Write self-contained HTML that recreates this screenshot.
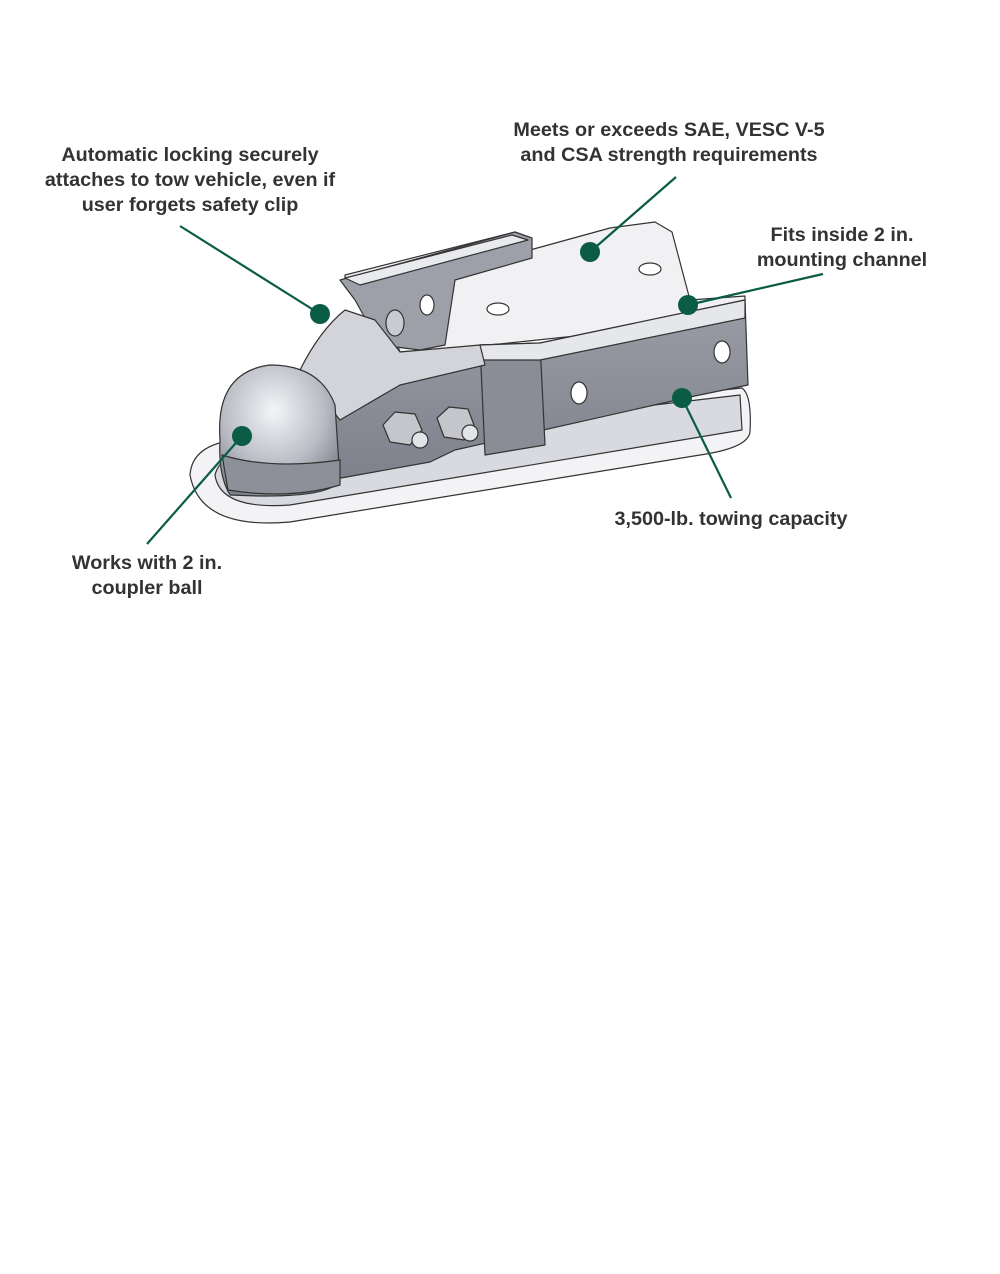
<!DOCTYPE html>
<html><head><meta charset="utf-8"><style>
html,body{margin:0;padding:0;background:#fff;}
body{width:1000px;height:1274px;position:relative;overflow:hidden;font-family:"Liberation Sans",sans-serif;}
.t{position:absolute;font-weight:bold;font-size:19.8px;line-height:25px;color:#333;text-align:center;white-space:nowrap;}
</style></head><body>
<svg width="1000" height="1274" style="position:absolute;left:0;top:0">
<defs>
<radialGradient id="ball" cx="0.45" cy="0.35" r="0.7"><stop offset="0" stop-color="#f4f5f8"/><stop offset="0.6" stop-color="#b9bcc4"/><stop offset="1" stop-color="#7d808a"/></radialGradient>
<linearGradient id="side" x1="0" y1="0" x2="0" y2="1"><stop offset="0" stop-color="#9a9da6"/><stop offset="1" stop-color="#7e818b"/></linearGradient>
</defs>
<g stroke="#333" stroke-width="1.2" stroke-linejoin="round">
<path d="M190,475 Q192,445 235,440 L742,388 Q752,395 750,432 Q748,448 700,455 L290,522 Q200,530 190,475 Z" fill="#f3f3f5"/>
<path d="M215,475 Q220,455 250,452 L740,395 L742,430 L290,505 Q220,510 215,475 Z" fill="#d9dadf"/>
<path d="M380,300 L345,287 L345,275 L515,232 L530,238 L530,250 L610,228 L655,222 L672,232 L690,300 L745,296 L745,318 L490,345 L400,352 Z" fill="#f1f1f3"/>
<path d="M340,280 L515,232 L532,238 L532,258 L455,280 L445,345 L420,350 L380,345 L355,300 Z" fill="#9da0a8"/>
<path d="M345,278 L512,235 L528,240 L360,285 Z" fill="#e9eaee"/>
<path d="M330,380 L480,345 L540,343 L745,300 L748,385 L690,397 L455,450 L430,462 L330,480 Z" fill="url(#side)"/>
<path d="M480,345 L540,343 L545,445 L485,455 Z" fill="#8a8d96"/>
<path d="M330,380 L480,345 L540,343 L745,300 L745,318 L540,360 L480,360 L345,400 Z" fill="#e6e7eb"/>
<path d="M300,370 Q320,330 345,310 L375,320 L400,352 L480,345 L485,365 L400,385 L340,420 Z" fill="#d2d4d9"/>
<path d="M220,440 Q215,372 270,365 Q320,365 335,405 L340,480 Q330,500 230,495 Q218,475 220,440 Z" fill="url(#ball)"/>
<path d="M222,455 Q270,470 340,460 L340,485 Q290,500 228,490 Z" fill="#8d9099"/>
<ellipse cx="579" cy="393" rx="8" ry="11" fill="#fff"/>
<ellipse cx="722" cy="352" rx="8" ry="11" fill="#fff"/>
<ellipse cx="498" cy="309" rx="11" ry="6" fill="#fff"/>
<ellipse cx="650" cy="269" rx="11" ry="6" fill="#fff"/>
<ellipse cx="395" cy="323" rx="9" ry="13" fill="#c9cbd0"/>
<ellipse cx="427" cy="305" rx="7" ry="10" fill="#fff"/>
<polygon points="383,425 395,412 415,414 422,430 410,445 390,442" fill="#c4c6cc"/>
<polygon points="437,418 449,407 468,409 474,425 464,440 444,437" fill="#c4c6cc"/>
<circle cx="420" cy="440" r="8" fill="#e3e4e8"/>
<circle cx="470" cy="433" r="8" fill="#e3e4e8"/>
</g>
<g stroke="#0a5c44" stroke-width="2.2" fill="#0a5c44">
<line x1="180" y1="226" x2="320" y2="314"/>
<line x1="676" y1="177" x2="590" y2="252"/>
<line x1="823" y1="274" x2="688" y2="305"/>
<line x1="682" y1="398" x2="731" y2="498"/>
<line x1="242" y1="436" x2="147" y2="544"/>
<circle cx="320" cy="314" r="10" stroke="none"/>
<circle cx="590" cy="252" r="10" stroke="none"/>
<circle cx="688" cy="305" r="10" stroke="none"/>
<circle cx="682" cy="398" r="10" stroke="none"/>
<circle cx="242" cy="436" r="10" stroke="none"/>
</g>
</svg>
<div class="t" style="left:40px;width:300px;top:143px;">Automatic locking securely<br>attaches to tow vehicle, even if<br>user forgets safety clip</div>
<div class="t" style="left:489px;width:360px;top:118px;">Meets or exceeds SAE, VESC V-5<br>and CSA strength requirements</div>
<div class="t" style="left:732px;width:220px;top:223px;">Fits inside 2 in.<br>mounting channel</div>
<div class="t" style="left:581px;width:300px;top:507px;">3,500-lb. towing capacity</div>
<div class="t" style="left:47px;width:200px;top:551px;">Works with 2 in.<br>coupler ball</div>
</body></html>
